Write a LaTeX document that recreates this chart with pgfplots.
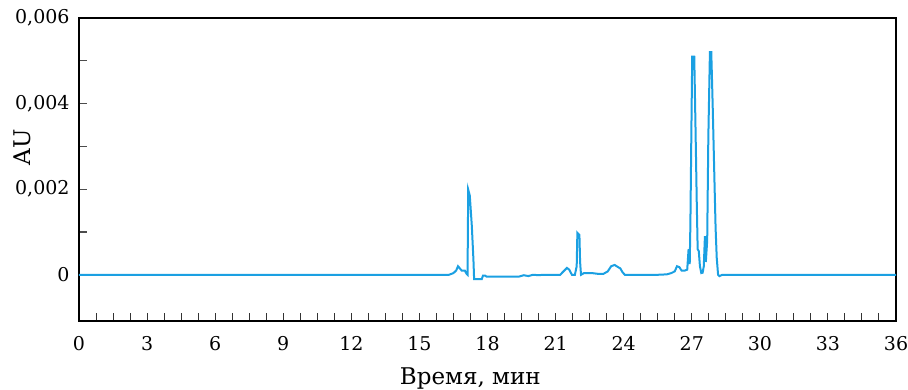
\documentclass[border=0pt]{standalone}
\usepackage{pgfplots}
\pgfplotsset{compat=1.18}
\usepackage{fontspec}
\setmainfont{DejaVu Serif}
\definecolor{chromblue}{RGB}{27,160,226}
\begin{document}
\begin{tikzpicture}
\begin{axis}[
  scale only axis,
  width=408.5pt, height=151.5pt,
  xmin=0, xmax=36,
  ymin=-0.00108, ymax=0.006,
  xtick={0,3,...,36},
  minor xtick={0,0.75,...,36},
  ytick={0,0.002,0.004,0.006},
  minor ytick={0.001,0.003,0.005},
  xtick pos=bottom, ytick pos=left,
  tick align=inside,
  major tick length=4pt, minor tick length=4pt,
  xtick style={black!80, line width=0.5pt},
  ytick style={black!70, line width=0.6pt},
  scaled y ticks=false,
  /pgf/number format/assume math mode=true,
  yticklabel style={/pgf/number format/fixed, /pgf/number format/precision=3,
     /pgf/number format/use comma, font=\fontsize{9.5}{11}\selectfont, xshift=-1.2pt},
  xticklabel style={font=\fontsize{9.5}{11}\selectfont, yshift=-4.2pt},
  axis line style={black, line width=0.6pt},
  xlabel={Время, мин},
  ylabel={AU},
  label style={font=\fontsize{11.5}{13}\selectfont},
  xlabel style={at={(axis description cs:0.479,0)}, anchor=center, yshift=-28.5pt},
  ylabel style={at={(axis description cs:-0.0698,0.574)}, anchor=center},
  clip=true,
]
\addplot[chromblue, line width=1pt] coordinates {
(0,0) (16.3,0) (16.5,0.00004) (16.62,0.0001) (16.7,0.0002) (16.78,0.00015)
(16.86,0.0001) (17.0,0.0001) (17.08,0.00002) (17.12,0.0)
(17.15,0.00199) (17.22,0.00185) (17.31,0.00113) (17.38,0.00035) (17.41,-0.0001)
(17.5,-0.0001) (17.75,-0.0001) (17.8,-0.00002) (17.9,-0.00002) (17.95,-0.00004)
(19.4,-0.00004) (19.6,-0.00001) (19.8,-0.00003) (20.0,0.0) (20.3,-0.00001) (20.4,0.0)
(21.2,0.0) (21.35,0.00008) (21.5,0.00016) (21.6,0.00012) (21.72,0.0) (21.85,0.0)
(21.93,0.0002) (21.96,0.00098) (22.05,0.00093) (22.08,0.0003) (22.12,0.0)
(22.25,0.00004) (22.6,0.00004) (22.9,0.00002) (23.1,0.00002) (23.3,0.00008)
(23.45,0.0002) (23.6,0.00023) (23.75,0.00018) (23.85,0.00015) (23.95,0.00006)
(24.05,0.0) (24.3,0.0) (24.6,0.0) (25.5,0.0) (25.9,0.00001)
(26.1,0.00004) (26.25,0.00008) (26.35,0.0002) (26.45,0.00018) (26.55,0.0001)
(26.7,0.0001) (26.8,0.00012) (26.86,0.0006) (26.91,0.00025) (26.94,0.0012)
(26.98,0.0032) (27.02,0.0051) (27.11,0.0051) (27.16,0.0036) (27.22,0.0017)
(27.26,0.0006) (27.31,0.00055) (27.36,0.0002) (27.42,0.00004) (27.48,0.00005)
(27.53,0.0002) (27.58,0.0009) (27.62,0.0003) (27.68,0.0008) (27.73,0.0032)
(27.8,0.0052) (27.86,0.0052) (27.92,0.0040) (28.0,0.0022) (28.05,0.0011)
(28.1,0.0004) (28.16,0.0) (28.22,-0.00003) (28.35,0.0) (36,0)
};
\end{axis}
\pgfresetboundingbox
\path (current axis.south west) +(-39.5pt,-34pt) (current axis.north east) +(6pt,9pt);
\end{tikzpicture}
\end{document}
